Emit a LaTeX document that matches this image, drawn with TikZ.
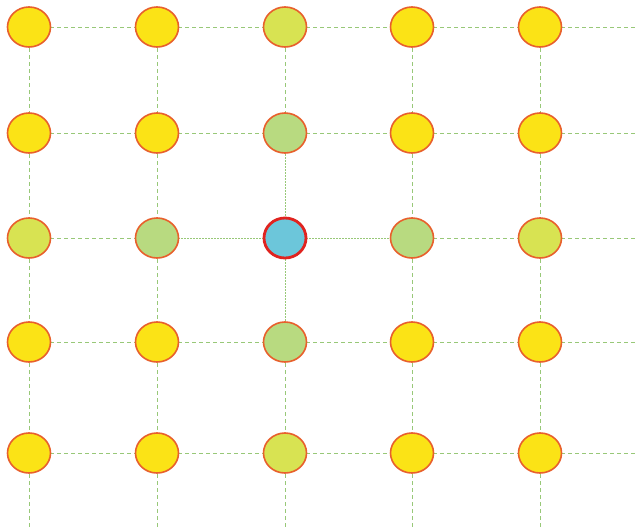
\documentclass[tikz,border=0pt]{standalone}
\usetikzlibrary{shapes.geometric,backgrounds}
\definecolor{yel}{HTML}{FBE316}
\definecolor{ygreen}{HTML}{D8E352}
\definecolor{lgreen}{HTML}{B8DA80}
\definecolor{cblue}{HTML}{6CC6DA}
\definecolor{bord}{HTML}{E8602C}
\definecolor{cred}{HTML}{E0231F}
\definecolor{gline}{HTML}{98C878}
\tikzset{
  dot/.style={ellipse, draw=bord, line width=1.6pt, minimum width=43pt, minimum height=40pt, inner sep=0pt, fill=yel},
  outerg/.style={fill=ygreen},
  innerg/.style={fill=lgreen},
  centre/.style={fill=cblue, draw=cred, line width=2.8pt, minimum width=42pt, minimum height=40pt},
  plain/.style={},
  gridline/.style={draw=gline, line width=0.9pt, dash pattern=on 4pt off 3pt},
  nearline/.style={draw=gline, line width=1pt, dash pattern=on 1.5pt off 1.5pt},
}
\begin{document}
\begin{tikzpicture}[x=1pt,y=-1pt]
\useasboundingbox (0,0) rectangle (638,528);
\def\xs{{29,157,285,412,540}}
\def\ys{{27,133,238,342,453}}
\foreach \i in {0,...,4}{
  \pgfmathsetmacro{\yy}{\ys[\i]}
  \coordinate (re\i) at (638,\yy);
  \pgfmathsetmacro{\xx}{\xs[\i]}
  \coordinate (be\i) at (\xx,528);
}
% nodes
\foreach \i in {0,...,4}{
  \foreach \j in {0,...,4}{
    \pgfmathsetmacro{\xx}{\xs[\j]}
    \pgfmathsetmacro{\yy}{\ys[\i]}
    \pgfmathtruncatemacro{\d}{abs(\i-2)+abs(\j-2)}
    \pgfmathtruncatemacro{\onaxis}{(\i==2)||(\j==2)}
    \def\sty{plain}
    \ifnum\onaxis=1
      \ifnum\d=0 \def\sty{centre}\fi
      \ifnum\d=1 \def\sty{innerg}\fi
      \ifnum\d=2 \def\sty{outerg}\fi
    \fi
    \node[dot,\sty] (n\i\j) at (\xx,\yy) {};
  }
}
% connectors (behind nodes)
\begin{pgfonlayer}{background}
\fill[white] (0,0) rectangle (638,528);
\foreach \i in {0,...,4}{
  \foreach \j/\k in {0/1,1/2,2/3,3/4}{
    \pgfmathtruncatemacro{\near}{(\i==2)&&((\j==1)||(\j==2))}
    \ifnum\near=1 \draw[nearline] (n\i\j.center) -- (n\i\k.center);
    \else \draw[gridline] (n\i\j.center) -- (n\i\k.center); \fi
  }
  \draw[gridline] (n\i4.center) -- (re\i);
}
\foreach \j in {0,...,4}{
  \foreach \i/\k in {0/1,1/2,2/3,3/4}{
    \pgfmathtruncatemacro{\near}{(\j==2)&&((\i==1)||(\i==2))}
    \ifnum\near=1 \draw[nearline] (n\i\j.center) -- (n\k\j.center);
    \else \draw[gridline] (n\i\j.center) -- (n\k\j.center); \fi
  }
  \draw[gridline] (n4\j.center) -- (be\j);
}
\end{pgfonlayer}
\end{tikzpicture}
\end{document}
